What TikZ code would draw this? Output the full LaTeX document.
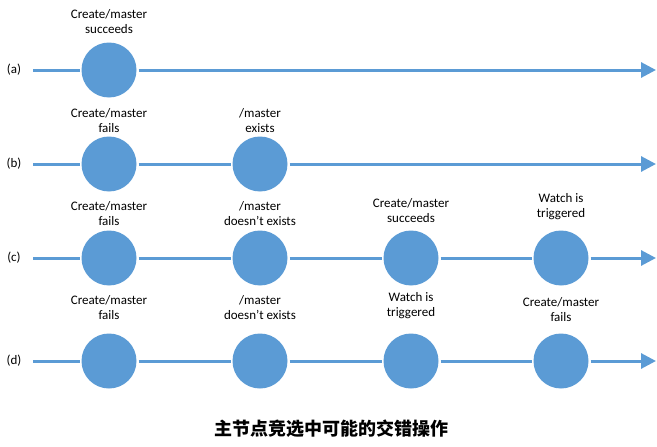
\documentclass[tikz,border=0pt]{standalone}
\usepackage{fontspec}
\setmainfont{Carlito}
\newfontfamily\cjk{Noto Sans CJK SC}
\usetikzlibrary{arrows.meta}
\definecolor{evblue}{HTML}{5B9BD5}
\tikzset{
  event/.style={circle,fill=evblue,minimum size=55pt,inner sep=0pt,outer sep=2pt},
  tline/.style={evblue,line width=3pt},
  tarrow/.style={tline,-{Triangle[length=15pt,width=15pt]}},
  txt/.style={align=center,font=\fontsize{13}{15}\selectfont},
}
\begin{document}
\begin{tikzpicture}[x=1pt,y=-1pt]
\useasboundingbox (0,0) rectangle (657,447);
% row labels
\node[txt] (la) at (14,70) {(a)};
\node[txt] (lb) at (14,164) {(b)};
\node[txt] (lc) at (14,258) {(c)};
\node[txt] (ld) at (14,361) {(d)};
% start and end of the time lines
\coordinate (sa) at (33,70);  \coordinate (ea) at (656,70);
\coordinate (sb) at (33,164); \coordinate (eb) at (656,164);
\coordinate (sc) at (33,258); \coordinate (ec) at (656,258);
\coordinate (sd) at (33,361); \coordinate (ed) at (656,361);
% (a)
\node[event] (a1) at (109,70) {};
\node[txt] (ta1) at (109,22) {Create/master\\succeeds};
\draw[tarrow] (sa) -- (a1) -- (ea);
% (b)
\node[event] (b1) at (109,164) {};
\node[event] (b2) at (260,164) {};
\node[txt] (tb1) at (109,120.5) {Create/master\\fails};
\node[txt] (tb2) at (260,120.5) {/master\\exists};
\draw[tarrow] (sb) -- (b1) -- (b2) -- (eb);
% (c)
\node[event] (c1) at (109,258) {};
\node[event] (c2) at (260,258) {};
\node[event] (c3) at (411,258) {};
\node[event] (c4) at (561,258) {};
\node[txt] (tc1) at (109,213.5) {Create/master\\fails};
\node[txt] (tc2) at (260,213.5) {/master\\doesn’t exists};
\node[txt] (tc3) at (411,211) {Create/master\\succeeds};
\node[txt] (tc4) at (561,206.5) {Watch is\\triggered};
\draw[tarrow] (sc) -- (c1) -- (c2) -- (c3) -- (c4) -- (ec);
% (d)
\node[event] (d1) at (109,361) {};
\node[event] (d2) at (260,361) {};
\node[event] (d3) at (411,361) {};
\node[event] (d4) at (561,361) {};
\node[txt] (td1) at (109,307.5) {Create/master\\fails};
\node[txt] (td2) at (260,307.5) {/master\\doesn’t exists};
\node[txt] (td3) at (411,306) {Watch is\\triggered};
\node[txt] (td4) at (561,310) {Create/master\\fails};
\draw[tarrow] (sd) -- (d1) -- (d2) -- (d3) -- (d4) -- (ed);
% caption
\node (title) at (331,429) {\cjk\bfseries\fontsize{18}{20}\selectfont 主节点竞选中可能的交错操作};
\end{tikzpicture}
\end{document}
